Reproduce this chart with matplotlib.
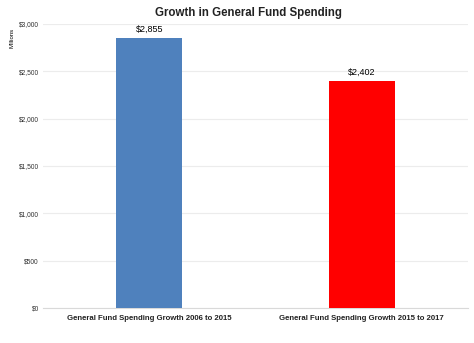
import matplotlib
matplotlib.use("Agg")
import matplotlib.pyplot as plt
from matplotlib.ticker import FuncFormatter

categories = ["General Fund Spending Growth 2006 to 2015", "General Fund Spending Growth 2015 to 2017"]
values = [2855, 2402]
colors = ["#4f81bd", "#ff0000"]
yticks = [0, 500, 1000, 1500, 2000, 2500, 3000]

plt.rcParams['font.family'] = ['Liberation Sans', 'DejaVu Sans']

fig = plt.figure(figsize=(4.74, 3.43), dpi=100)
ax = fig.add_axes([43/474, 1 - 308/343, 425/474, (308 - 24)/343])

x = list(range(len(categories)))
bars = ax.bar(x, values, width=0.31, color=colors, zorder=3)
for b, v in zip(bars, values):
    ax.text(b.get_x() + b.get_width()/2, v + 40, f"${v:,}", ha='center', va='bottom', fontsize=6.5)

ax.set_xlim(-0.5, 1.5)
ax.set_ylim(0, 3000)
ax.set_yticks(yticks)
ax.yaxis.set_major_formatter(FuncFormatter(lambda v, p: f"${int(v):,}"))
ax.tick_params(axis='y', labelsize=4.8, length=0, pad=3, colors='#333333')
ax.set_xticks(x)
ax.set_xticklabels(categories, fontsize=5.6, fontweight='bold', color='#222222')
ax.tick_params(axis='x', length=0, pad=5)
ax.grid(axis='y', color='#ececec', linewidth=0.8, zorder=0)
for s in ['top', 'right', 'left']:
    ax.spines[s].set_visible(False)
ax.spines['bottom'].set_color('#d9d9d9')

fig.text(248/474, 1 - 13/343, "Growth in General Fund Spending", ha='center', va='center', fontsize=8.3, fontweight='bold', color='#222222')
fig.text(12/474, 1 - 38/343, "Millions", ha='center', va='center', rotation=90, fontsize=4.3)

fig.savefig("out.png", dpi=100)
